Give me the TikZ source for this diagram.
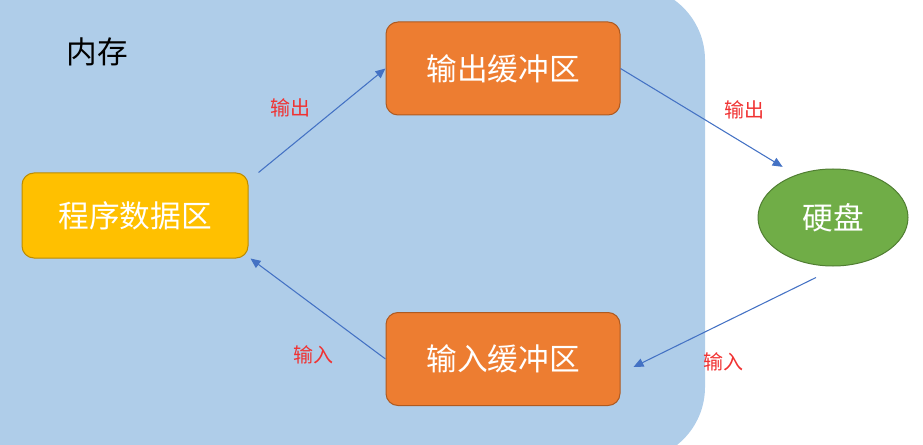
\documentclass[tikz,border=0pt]{standalone}
\usepackage{fontspec}
\setmainfont{Noto Sans CJK SC}
\usepackage{tikz}
\usetikzlibrary{arrows.meta,positioning,shapes.geometric}
\definecolor{memblue}{RGB}{175,205,233}
\definecolor{progfill}{RGB}{255,192,0}
\definecolor{progline}{RGB}{188,140,0}
\definecolor{buffill}{RGB}{237,125,49}
\definecolor{bufline}{RGB}{174,90,33}
\definecolor{diskfill}{RGB}{112,173,71}
\definecolor{diskline}{RGB}{80,126,50}
\definecolor{arrblue}{RGB}{68,114,196}
\definecolor{lblred}{RGB}{240,50,50}
\tikzset{
  box/.style={draw,rounded corners=9pt,line width=0.75pt,inner sep=0pt,
    text=white,font=\fontsize{23}{23}\selectfont},
  progbox/.style={box,fill=progfill,draw=progline,minimum width=169.5pt,minimum height=63.75pt},
  bufbox/.style={box,fill=buffill,draw=bufline,minimum width=175.5pt,minimum height=69.75pt},
  diskbox/.style={ellipse,draw=diskline,fill=diskfill,line width=0.75pt,inner sep=0pt,
    minimum width=112.5pt,minimum height=72.75pt,text=white,font=\fontsize{23}{23}\selectfont},
  arr/.style={draw=arrblue,line width=0.8pt,-{Triangle[length=7.5pt,width=6.5pt]}},
  lbl/.style={text=lblred,font=\fontsize{15}{15}\selectfont}
}

\begin{document}
\begin{tikzpicture}[x=0.75pt,y=-0.75pt]
  \useasboundingbox (0,0) rectangle (923,445);
  \fill[memblue,rounded corners=55.5pt] (-40,-14) rectangle (705,461);
  \node[font=\fontsize{23}{23}\selectfont] (mem) at (97,52) {内存};
  \node[progbox] (prog) at (135,215.5) {程序数据区};
  \node[bufbox] (outbuf) at (503,68.5) {输出缓冲区};
  \node[bufbox] (inbuf) at (503,359) {输入缓冲区};
  \node[diskbox] (disk) at (833,217.5) {硬盘};
  \draw[arr] ([xshift=7.5pt]prog.north east) -- (outbuf.west);
  \draw[arr] (outbuf.east) -- ([shift={(3,-16)}]disk.north west);
  \draw[arr] ([shift={(-17,11)}]disk.south) -- ([shift={(13,8)}]inbuf.east);
  \draw[arr] (inbuf.west) -- ([xshift=1.5pt]prog.south east);
  \node[lbl] (lblout1) at (290,108) {输出};
  \node[lbl] (lblout2) at (744,110) {输出};
  \node[lbl] (lblin1) at (723,362) {输入};
  \node[lbl] (lblin2) at (313,355) {输入};
\end{tikzpicture}
\end{document}
